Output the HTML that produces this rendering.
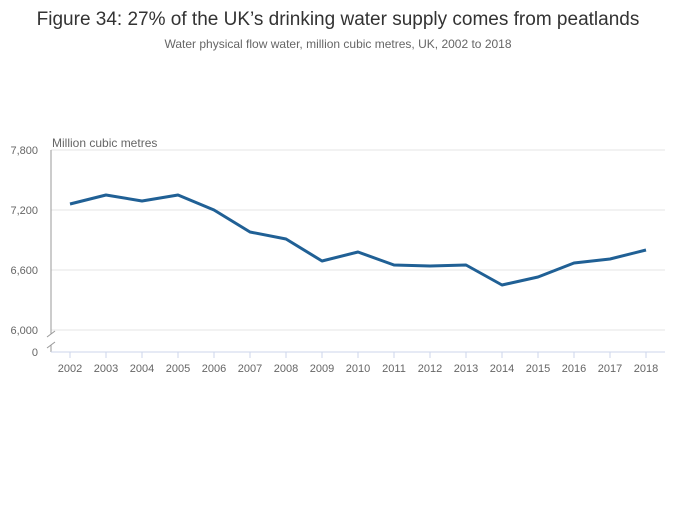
<!DOCTYPE html>
<html><head><meta charset="utf-8"><style>
body{margin:0;background:#fff;font-family:"Liberation Sans",sans-serif;}
svg text{font-family:"Liberation Sans",sans-serif;}
</style></head><body>
<svg width="700" height="502">
<text x="338" y="25" text-anchor="middle" font-size="19" fill="#333">Figure 34: 27% of the UK’s drinking water supply comes from peatlands</text>
<text x="338" y="48" text-anchor="middle" font-size="12" fill="#666">Water physical flow water, million cubic metres, UK, 2002 to 2018</text>
<text x="52" y="147" font-size="12" fill="#666">Million cubic metres</text>
<g id="grid"></g>
<line x1="51" y1="150" x2="51" y2="334" stroke="#999"/>
<line x1="51" y1="345" x2="51" y2="352" stroke="#999"/>
<line x1="47" y1="337" x2="55" y2="331" stroke="#999"/>
<line x1="47" y1="348" x2="55" y2="342" stroke="#999"/>
<text x="38" y="356" text-anchor="end" font-size="11" fill="#666">0</text>
<line x1="51" y1="352" x2="665" y2="352" stroke="#ccd6eb"/>
<g id="xt"></g>
<path id="line" fill="none" stroke="#206095" stroke-width="3" stroke-linejoin="round"/>
</svg>
<script>
const years=["2002","2003","2004","2005","2006","2007","2008","2009","2010","2011","2012","2013","2014","2015","2016","2017","2018"];
const values=[7260,7350,7290,7350,7200,6980,6910,6690,6780,6650,6640,6650,6450,6530,6670,6710,6800];
const yTicks=[6000,6600,7200,7800];
const yTickLabels=["6,000","6,600","7,200","7,800"];
const NS="http://www.w3.org/2000/svg";
const x=i=>70+i*36;
const y=v=>330-(v-6000)*0.1;
const g=document.getElementById('grid');
yTicks.forEach((t,i)=>{
 const l=document.createElementNS(NS,'line');
 l.setAttribute('x1',51);l.setAttribute('x2',665);l.setAttribute('y1',y(t));l.setAttribute('y2',y(t));l.setAttribute('stroke','#e6e6e6');
 
 
 g.appendChild(l);
 const tx=document.createElementNS(NS,'text');
 tx.setAttribute('x',38);tx.setAttribute('y',y(t)+4);tx.setAttribute('text-anchor','end');tx.setAttribute('font-size','11');tx.setAttribute('fill','#666');
 tx.textContent=yTickLabels[i];
 
 
 g.appendChild(tx);
});
const xt=document.getElementById('xt');
years.forEach((yr,i)=>{
 const l=document.createElementNS(NS,'line');
 l.setAttribute('x1',x(i));l.setAttribute('x2',x(i));l.setAttribute('y1',352);l.setAttribute('y2',358);l.setAttribute('stroke','#ccd6eb');
 
 
 xt.appendChild(l);
 const tx=document.createElementNS(NS,'text');
 tx.setAttribute('x',x(i));tx.setAttribute('y',372);tx.setAttribute('text-anchor','middle');tx.setAttribute('font-size','11');tx.setAttribute('fill','#666');
 tx.textContent=yr;
 
 
 xt.appendChild(tx);
});
document.getElementById('line').setAttribute('d',values.map((v,i)=>(i?'L':'M')+x(i)+','+y(v)).join(' '));
</script>
</body></html>
